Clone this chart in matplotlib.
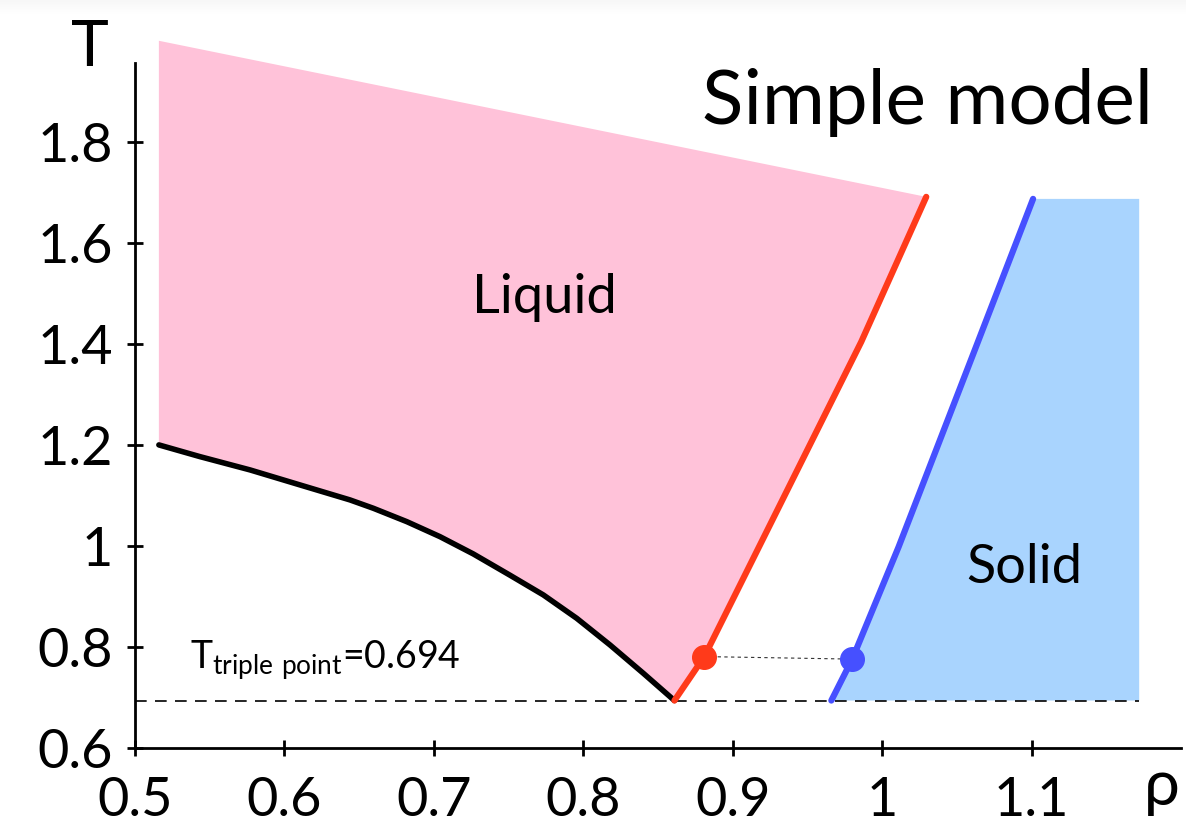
import numpy as np
import matplotlib
matplotlib.use('Agg')
import matplotlib.pyplot as plt

plt.rcParams['font.family'] = ['Lato', 'DejaVu Sans']
plt.rcParams['mathtext.fontset'] = 'custom'
plt.rcParams['mathtext.rm'] = 'Lato'

# Data
T_triple = 0.694

# liquid-gas boundary (black curve)
gas_rho = [0.516, 0.5435, 0.577, 0.6104, 0.6439, 0.6595, 0.6819, 0.7041,
           0.7264, 0.751, 0.7733, 0.7956, 0.8179, 0.8402, 0.861]
gas_T = [1.200, 1.1768, 1.1505, 1.1208, 1.0911, 1.0746, 1.0481, 1.0184,
         0.9842, 0.9420, 0.9030, 0.8568, 0.8040, 0.7479, 0.694]

# freezing line (red)
liq_rho = [0.861, 0.881, 0.986, 1.0295]
liq_T = [0.694, 0.781, 1.404, 1.691]

# melting line (blue)
sol_rho = [0.966, 0.980, 1.011, 1.062, 1.101]
sol_T = [0.694, 0.776, 0.998, 1.388, 1.687]

# top of the liquid region
liq_top_rho = [0.516, 1.0295]
liq_top_T = [2.0, 1.691]

solid_right_rho = 1.172
solid_top_T = 1.687

# coexistence points
dot_rho = [0.881, 0.980]
dot_T = [0.781, 0.776]

xticks = [0.5, 0.6, 0.7, 0.8, 0.9, 1.0, 1.1]
xticklabels = ['0.5', '0.6', '0.7', '0.8', '0.9', '1', '1.1']
yticks = [0.6, 0.8, 1.0, 1.2, 1.4, 1.6, 1.8]
yticklabels = ['0.6', '0.8', '1', '1.2', '1.4', '1.6', '1.8']

pink = '#ffc2d9'
light_blue = '#a9d4fe'
red = '#ff3a1a'
blue = '#4650ff'

fig = plt.figure(figsize=(11.86, 8.4), dpi=100)
ax = fig.add_axes([0.1138, 0.1095, 0.882, 0.8155])

# liquid region
px = liq_top_rho + liq_rho[::-1] + gas_rho[::-1]
py = liq_top_T + liq_T[::-1] + gas_T[::-1]
ax.fill(px, py, color=pink, lw=0, clip_on=False, zorder=1)

# solid region
sx = sol_rho + [solid_right_rho, solid_right_rho]
sy = sol_T + [solid_top_T, T_triple]
ax.fill(sx, sy, color=light_blue, lw=0, zorder=1)

# triple point line
ax.plot([0.5, solid_right_rho], [T_triple, T_triple], color='black', lw=1.2,
        dashes=[7, 5], zorder=2)

ax.plot(gas_rho, gas_T, color='black', lw=4, solid_capstyle='round',
        solid_joinstyle='round', zorder=3)
ax.plot(liq_rho, liq_T, color=red, lw=4.5, solid_capstyle='round',
        solid_joinstyle='round', zorder=3)
ax.plot(sol_rho, sol_T, color=blue, lw=4.5, solid_capstyle='round',
        solid_joinstyle='round', zorder=3)

ax.plot(dot_rho, dot_T, color='#333333', lw=0.8, dashes=[3, 3], zorder=3)
ax.plot(dot_rho[0], dot_T[0], 'o', color=red, ms=17, zorder=4)
ax.plot(dot_rho[1], dot_T[1], 'o', color=blue, ms=17, zorder=4)

ax.set_xlim(0.5, 1.2)
ax.set_ylim(0.6, 1.956)
ax.spines['top'].set_visible(False)
ax.spines['right'].set_visible(False)
ax.spines['left'].set_linewidth(2)
ax.spines['bottom'].set_linewidth(2)
ax.set_xticks(xticks)
ax.set_xticklabels(xticklabels)
ax.set_yticks(yticks)
ax.set_yticklabels(yticklabels)
ax.tick_params(axis='both', direction='inout', length=12, width=2, labelsize=39)
ax.tick_params(axis='x', pad=14)
ax.tick_params(axis='y', pad=10)

ax.text(0.47, 1.986, 'T', fontsize=46, ha='center', va='center', clip_on=False)
ax.text(1.187, 0.487, 'ρ', fontsize=46, ha='center', va='baseline', clip_on=False)

ax.text(1.03, 1.835, 'Simple model', fontsize=55, ha='center', va='baseline')
ax.text(0.774, 1.461, 'Liquid', fontsize=39, ha='center', va='baseline')
ax.text(1.095, 0.927, 'Solid', fontsize=39, ha='center', va='baseline')
ax.text(0.537, 0.757, r'T$_{\mathrm{triple\ point}}$=0.694', fontsize=27,
        ha='left', va='baseline')

# faint gray strip along the top edge
strip = fig.add_axes([0, 0.982, 1, 0.018])
strip.imshow(np.linspace(0, 0.07, 20).reshape(-1, 1), cmap='Greys', vmin=0, vmax=1,
             aspect='auto', origin='lower')
strip.axis('off')

fig.savefig('out.png', dpi=100)
